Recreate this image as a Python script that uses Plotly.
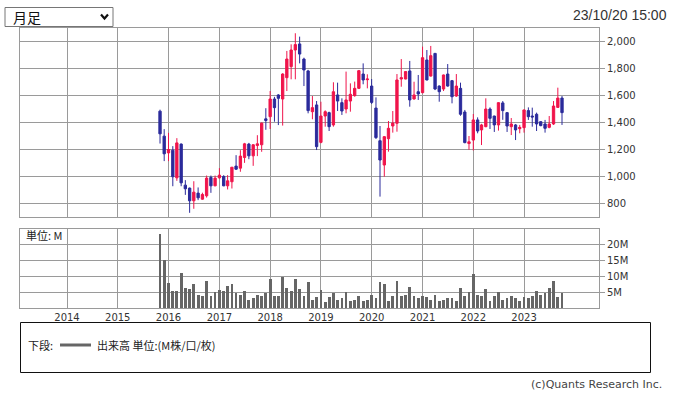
import pandas as pd
import plotly.graph_objects as go

# ---------------- data ----------------
months = pd.date_range("2015-11-01", periods=96, freq="MS")

opens = [1484, 1299,
         1175, 1195, 990, 1240, 936, 914, 820, 877, 832, 857, 993, 931,
         990, 1000, 931, 961, 1077, 1062, 1141, 1240, 1153, 1230, 1235, 1427,
         1443, 1574, 1604, 1574, 1732, 1814, 1937, 1982, 1870, 1782, 1480, 1530,
         1253, 1448, 1473, 1382, 1604, 1547, 1500, 1559, 1599, 1653, 1759, 1717,
         1670, 1507, 1265, 1085, 1280, 1374, 1394, 1722, 1722, 1782, 1574, 1628,
         1621, 1863, 1744, 1912, 1670, 1648, 1759, 1710, 1596, 1653, 1478, 1244,
         1270, 1419, 1345, 1369, 1500, 1448, 1382, 1545, 1473, 1369, 1382, 1354,
         1362, 1488, 1448, 1461, 1406, 1389, 1364, 1389, 1512, 1581]
highs = [1495, 1351,
         1323, 1225, 1284, 1245, 973, 918, 965, 919, 880, 1007, 1007, 1007,
         1062, 1010, 1010, 1069, 1158, 1195, 1249, 1249, 1240, 1306, 1400, 1506,
         1633, 1590, 1610, 1765, 1930, 1979, 2061, 2036, 1880, 1790, 1596, 1559,
         1554, 1490, 1480, 1698, 1695, 1579, 1777, 1690, 1703, 1789, 1838, 1757,
         1722, 1586, 1374, 1300, 1411, 1485, 1759, 1870, 1780, 1856, 1702, 1752,
         1962, 1937, 1967, 1915, 1675, 1755, 1833, 1715, 1759, 1695, 1493, 1300,
         1463, 1438, 1390, 1579, 1512, 1450, 1550, 1559, 1478, 1433, 1389, 1382,
         1495, 1512, 1510, 1473, 1410, 1419, 1448, 1559, 1658, 1596]
lows = [1244, 1114,
        1114, 928, 968, 928, 864, 731, 761, 825, 828, 844, 879, 928,
        985, 928, 904, 911, 1049, 1035, 1101, 1128, 1079, 1151, 1183, 1346,
        1352, 1406, 1381, 1377, 1633, 1720, 1720, 1838, 1670, 1468, 1424, 1196,
        1246, 1369, 1337, 1369, 1485, 1456, 1468, 1480, 1591, 1648, 1683, 1653,
        1537, 1278, 851, 999, 1184, 1325, 1332, 1665, 1720, 1517, 1570, 1567,
        1616, 1712, 1740, 1640, 1554, 1633, 1665, 1542, 1590, 1450, 1246, 1198,
        1193, 1320, 1233, 1365, 1352, 1330, 1340, 1420, 1330, 1307, 1270, 1320,
        1325, 1419, 1369, 1337, 1372, 1325, 1357, 1382, 1510, 1382]
closes = [1316, 1168,
          1200, 998, 1249, 953, 909, 820, 884, 842, 867, 988, 931, 988,
          1010, 931, 968, 1069, 1054, 1151, 1242, 1153, 1235, 1242, 1395, 1415,
          1574, 1510, 1579, 1759, 1870, 1937, 1977, 1907, 1789, 1488, 1510, 1221,
          1448, 1480, 1369, 1628, 1559, 1485, 1567, 1609, 1653, 1784, 1715, 1722,
          1549, 1288, 1122, 1295, 1357, 1396, 1715, 1732, 1777, 1567, 1604, 1611,
          1880, 1715, 1895, 1648, 1628, 1752, 1670, 1591, 1670, 1461, 1251, 1257,
          1419, 1337, 1382, 1500, 1431, 1382, 1547, 1488, 1374, 1389, 1345, 1364,
          1493, 1443, 1441, 1389, 1377, 1357, 1389, 1522, 1581, 1473]
volumes = [23.2, 15.0,
           7.7, 5.2, 5.2, 11.0, 6.2, 5.8, 7.5, 4.2, 3.9, 8.4, 3.7, 4.9,
           5.5, 5.2, 6.8, 7.4, 4.7, 4.2, 5.2, 2.6, 3.0, 4.2, 3.9, 4.7,
           9.0, 3.9, 3.6, 9.7, 6.1, 5.2, 9.0, 5.8, 3.9, 8.0, 2.6, 3.3,
           5.5, 1.8, 3.3, 4.7, 2.6, 3.0, 4.9, 2.3, 2.6, 3.6, 2.3, 2.6,
           4.2, 3.0, 8.0, 7.4, 2.3, 3.6, 8.4, 3.9, 4.2, 6.5, 3.6, 3.0,
           3.9, 3.3, 2.6, 4.2, 2.3, 2.6, 3.0, 3.0, 2.3, 6.1, 3.9, 4.9,
           10.6, 4.2, 3.9, 5.8, 2.3, 3.9, 4.9, 2.6, 3.0, 3.9, 3.0, 2.3,
           3.3, 3.0, 3.9, 5.2, 4.2, 4.7, 6.1, 8.4, 3.3, 4.7]

year_ticks = ["2014-01-01", "2015-01-01", "2016-01-01", "2017-01-01", "2018-01-01",
              "2019-01-01", "2020-01-01", "2021-01-01", "2022-01-01", "2023-01-01"]
year_labels = ["2014", "2015", "2016", "2017", "2018",
               "2019", "2020", "2021", "2022", "2023"]
price_ticks = [800, 1000, 1200, 1400, 1600, 1800, 2000]
vol_ticks = [5, 10, 15, 20]
vol_tick_labels = ["5M", "10M", "15M", "20M"]

# ---------------- style ----------------
W, H = 673, 394
RED = "#F0144B"
BLUE = "#2B2B9B"
GRID = "#9a9a9a"
VOLC = "#666666"
JP = "Noto Sans CJK JP"
NUM = "DejaVu Sans"
X_RANGE = ["2013-01-28", "2024-06-23"]


def px(x):
    return x / W


def py(y):
    return 1 - y / H


fig = go.Figure()
fig.add_trace(go.Candlestick(
    x=months, open=opens, high=highs, low=lows, close=closes,
    xaxis="x", yaxis="y",
    increasing=dict(line=dict(color=RED, width=1), fillcolor=RED),
    decreasing=dict(line=dict(color=BLUE, width=1), fillcolor=BLUE),
    showlegend=False, hoverinfo="skip"))
fig.add_trace(go.Bar(
    x=months, y=volumes, xaxis="x2", yaxis="y2",
    marker=dict(color=VOLC, line=dict(width=0)),
    width=20 * 86400000, showlegend=False, hoverinfo="skip"))

common_x = dict(type="date", range=X_RANGE, domain=[px(20), px(599)],
                showgrid=True, gridcolor=GRID, gridwidth=1,
                tickmode="array", tickvals=year_ticks, ticktext=year_labels,
                showline=True, mirror=True,
                linecolor=GRID, linewidth=1, zeroline=False, automargin=False,
                fixedrange=True)
fig.update_layout(
    template="none",
    width=W, height=H, margin=dict(l=0, r=0, t=0, b=0),
    paper_bgcolor="white", plot_bgcolor="white",
    boxgap=0.15,
    xaxis=dict(**common_x, anchor="y", showticklabels=False,
               rangeslider=dict(visible=False)),
    xaxis2=dict(**common_x, anchor="y2", showticklabels=True,
                ticks="", tickfont=dict(family=NUM, size=10, color="#333")),
    yaxis=dict(domain=[py(217), py(28)], anchor="x", side="right",
               range=[700, 2100], tickvals=price_ticks, tickformat=",",
               showgrid=True, gridcolor=GRID, gridwidth=1,
               ticks="outside", ticklen=5, tickcolor=GRID,
               showline=True, mirror=True, linecolor=GRID, zeroline=False,
               automargin=False, fixedrange=True,
               tickfont=dict(family=NUM, size=10, color="#333")),
    yaxis2=dict(domain=[py(308), py(229)], anchor="x2", side="right",
                range=[0, 24.7], tickvals=vol_ticks, ticktext=vol_tick_labels,
                showgrid=True, gridcolor=GRID, gridwidth=1,
                ticks="outside", ticklen=5, tickcolor=GRID,
                showline=True, mirror=True, linecolor=GRID, zeroline=False,
                automargin=False, fixedrange=True,
                tickfont=dict(family=NUM, size=10, color="#333")),
    bargap=0,
)

ann = [
    dict(text="月足", x=px(11), y=py(17), xanchor="left", yanchor="middle",
         font=dict(family=JP, size=14, color="#111")),
    dict(text="23/10/20 15:00", x=px(669), y=py(15), xanchor="right", yanchor="middle",
         font=dict(family="Liberation Sans", size=14, color="#333")),
    dict(text="単位: M", x=px(24), y=py(235), xanchor="left", yanchor="middle",
         font=dict(family=JP, size=11, color="#222")),
    dict(text="下段:", x=px(26), y=py(345), xanchor="left", yanchor="middle",
         font=dict(family=JP, size=11, color="#222")),
    dict(text="出来高 単位:(M株/口/枚)", x=px(95), y=py(345), xanchor="left", yanchor="middle",
         font=dict(family=JP, size=11, color="#222")),
    dict(text="(c)Quants Research Inc.", x=px(664), y=py(384), xanchor="right", yanchor="middle",
         font=dict(family=NUM, size=11, color="#444")),
]
for a in ann:
    fig.add_annotation(xref="paper", yref="paper", showarrow=False, **a)

shapes = [
    dict(type="rect", x0=px(5), x1=px(113), y0=py(26.5), y1=py(7.5),
         line=dict(color="#767676", width=1)),
    dict(type="path",
         path=f"M {px(101)},{py(14.5)} L {px(104.5)},{py(18.5)} L {px(108)},{py(14.5)}",
         line=dict(color="#111", width=2.2)),
    dict(type="rect", x0=px(20.5), x1=px(650.5), y0=py(372.5), y1=py(322.5),
         line=dict(color="#111", width=1)),
    dict(type="line", x0=px(60), x1=px(91), y0=py(345), y1=py(345),
         line=dict(color=VOLC, width=3)),
]
for s in shapes:
    fig.add_shape(xref="paper", yref="paper", **s)

fig.write_html("out.html")
